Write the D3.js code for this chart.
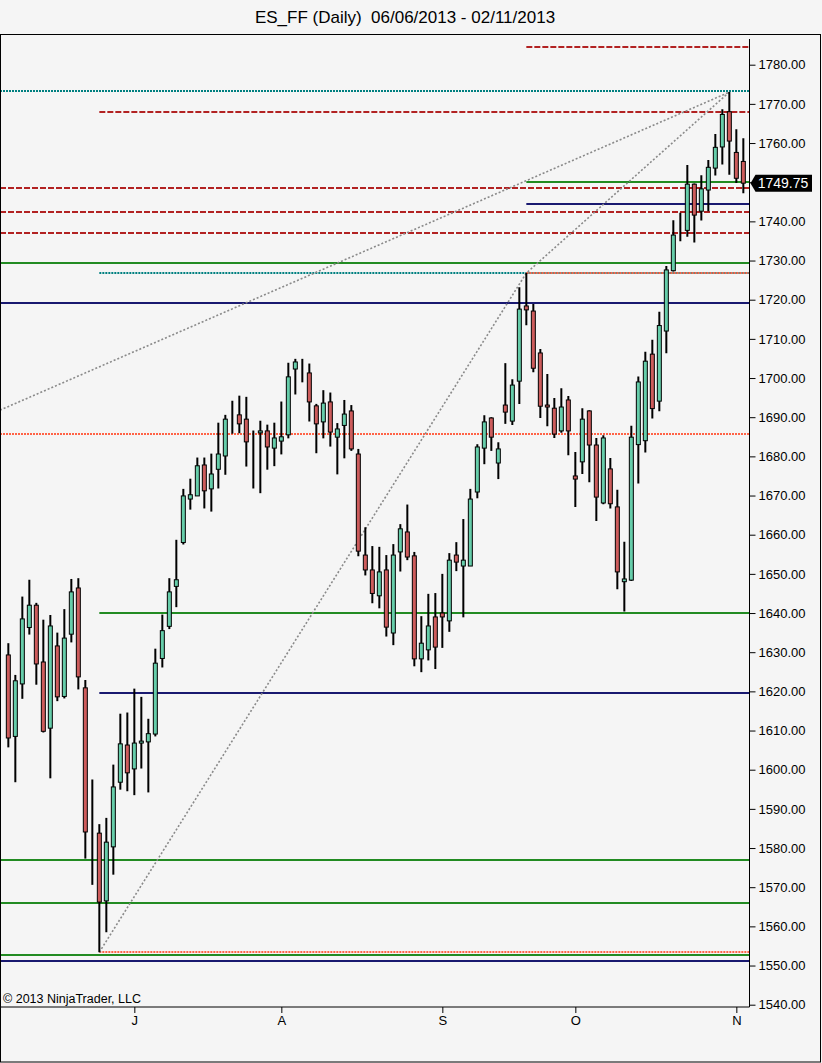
<!DOCTYPE html>
<html>
<head>
<meta charset="utf-8">
<script src="https://cdnjs.cloudflare.com/ajax/libs/d3/7.8.5/d3.min.js"></script>
<style>
  body { margin: 0; background: #f5f5f5; }
  svg { display: block; font-family: "Liberation Sans", Arial, sans-serif; }
</style>
</head>
<body>
<div id="svgContainer"></div>
<script>
// Daily bars, one entry per session (06/06/2013 .. 01/11/2013)
var opens = [1629.3, 1608.5, 1621.9, 1636.3, 1642.0, 1627.5, 1610.6, 1631.6, 1618.7, 1634.6,
  1646.4, 1620.9, 1584.25, 1583.8, 1566.5, 1580.3, 1596.8, 1606.3, 1600.2, 1606.8,
  1607.1, 1609.1, 1628.4, 1636.6, 1646.8, 1658.0, 1669.1, 1669.9, 1677.8, 1671.7,
  1676.7, 1680.1, 1690.1, 1690.6, 1689.5, 1684.0, 1686.0, 1686.5, 1682.1, 1683.9,
  1685.5, 1702.3, 1702.6, 1701.3, 1692.9, 1688.8, 1693.9, 1684.9, 1687.9, 1691.6,
  1680.6, 1654.8, 1651.0, 1644.4, 1651.0, 1634.9, 1655.6, 1660.7, 1654.6, 1628.3,
  1630.6, 1639.0, 1640.0, 1638.0, 1654.8, 1652.0, 1652.0, 1670.9, 1682.1, 1689.8,
  1678.3, 1693.1, 1689.0, 1699.2, 1718.4, 1717.1, 1706.4, 1693.1, 1692.3, 1686.5,
  1694.4, 1675.0, 1678.6, 1691.6, 1682.9, 1668.1, 1676.8, 1667.1, 1648.0, 1648.4,
  1683.0, 1684.0, 1706.1, 1694.1, 1712.0, 1727.4, 1738.1, 1737.7, 1749.5, 1742.6,
  1748.0, 1753.6, 1759.0, 1768.0, 1757.6, 1755.3];
var highs = [1632.3, 1624.2, 1644.2, 1648.5, 1642.6, 1638.3, 1639.5, 1635.0, 1641.0, 1648.7,
  1648.9, 1622.9, 1597.5, 1586.1, 1587.7, 1601.3, 1614.3, 1614.6, 1620.7, 1618.6,
  1613.0, 1630.9, 1639.6, 1648.9, 1658.7, 1671.7, 1674.3, 1679.7, 1679.7, 1680.7,
  1688.6, 1690.6, 1694.2, 1695.5, 1695.2, 1686.6, 1689.1, 1688.1, 1688.6, 1694.0,
  1703.9, 1704.9, 1704.9, 1703.7, 1693.4, 1696.9, 1696.3, 1688.5, 1694.4, 1693.1,
  1681.9, 1661.9, 1657.1, 1656.9, 1654.8, 1657.6, 1662.7, 1667.7, 1655.6, 1639.2,
  1644.9, 1645.1, 1650.0, 1655.3, 1658.1, 1664.0, 1671.7, 1683.1, 1690.5, 1690.0,
  1683.6, 1703.8, 1699.7, 1723.2, 1726.8, 1718.9, 1707.4, 1701.0, 1694.9, 1697.4,
  1695.4, 1681.1, 1692.3, 1691.8, 1684.7, 1685.4, 1679.6, 1671.5, 1658.2, 1687.8,
  1700.4, 1706.7, 1709.8, 1716.9, 1728.6, 1740.3, 1742.2, 1754.4, 1749.7, 1751.8,
  1755.7, 1762.3, 1768.6, 1773.0, 1763.5, 1761.2];
var lows = [1605.7, 1596.8, 1618.1, 1634.5, 1621.7, 1609.5, 1597.8, 1617.5, 1618.2, 1632.5,
  1620.5, 1577.3, 1570.6, 1553.4, 1558.5, 1573.2, 1594.9, 1594.5, 1593.5, 1600.3,
  1594.2, 1608.5, 1626.1, 1635.9, 1641.5, 1657.5, 1666.4, 1669.9, 1666.7, 1665.9,
  1671.8, 1675.3, 1685.8, 1685.9, 1677.4, 1671.8, 1670.6, 1676.6, 1677.5, 1680.5,
  1684.6, 1695.8, 1698.9, 1688.9, 1680.8, 1684.6, 1682.5, 1675.4, 1679.5, 1681.4,
  1654.5, 1649.6, 1642.5, 1641.2, 1634.0, 1631.8, 1650.6, 1653.5, 1626.4, 1624.9,
  1627.9, 1625.7, 1631.1, 1635.2, 1650.7, 1638.9, 1652.0, 1669.3, 1678.0, 1681.4,
  1674.2, 1688.3, 1688.0, 1693.4, 1713.5, 1701.5, 1689.8, 1687.7, 1684.7, 1686.0,
  1680.3, 1667.1, 1675.5, 1673.4, 1663.5, 1667.8, 1666.7, 1646.1, 1640.4, 1648.2,
  1673.1, 1681.0, 1689.7, 1691.5, 1706.3, 1727.2, 1734.9, 1736.1, 1734.6, 1740.2,
  1742.6, 1751.7, 1754.5, 1751.9, 1749.8, 1747.2];
var closes = [1608.1, 1622.7, 1638.5, 1642.0, 1627.0, 1609.8, 1636.7, 1618.6, 1633.6, 1645.4,
  1623.7, 1584.1, 1584.25, 1566.2, 1581.5, 1595.6, 1606.6, 1599.2, 1606.8, 1607.3,
  1609.2, 1627.2, 1635.5, 1645.4, 1648.5, 1669.9, 1670.2, 1677.6, 1671.2, 1675.5,
  1680.6, 1689.5, 1690.1, 1688.3, 1683.7, 1684.0, 1686.5, 1682.4, 1684.7, 1685.0,
  1700.3, 1704.1, 1702.6, 1693.9, 1688.3, 1693.6, 1686.2, 1687.0, 1690.8, 1681.9,
  1655.8, 1651.0, 1645.0, 1650.5, 1636.4, 1654.8, 1661.5, 1654.3, 1628.3, 1632.3,
  1636.7, 1631.3, 1639.0, 1653.5, 1653.0, 1653.5, 1669.1, 1682.4, 1688.8, 1684.9,
  1681.9, 1691.3, 1698.2, 1717.6, 1717.4, 1702.5, 1692.8, 1692.6, 1685.7, 1692.6,
  1686.5, 1674.2, 1689.5, 1682.9, 1669.6, 1684.7, 1667.9, 1650.5, 1648.7, 1684.9,
  1699.0, 1704.3, 1692.2, 1713.4, 1727.6, 1736.5, 1738.1, 1749.5, 1741.6, 1748.3,
  1753.8, 1758.9, 1767.3, 1760.5, 1751.0, 1749.75];

// Month ticks: bar index of the first session of each month
var monthTicks = [18, 39, 62, 81, 104];
var monthLabels = ["J", "A", "S", "O", "N"];

var priceTicks = d3.range(1540, 1781, 10);

// Horizontal levels drawn on the chart (from = first bar, 0 = whole width)
var levelValues = [1784.5, 1773.3, 1767.8, 1750.1, 1748.6, 1744.5, 1742.4, 1737.1, 1729.45,
  1726.9, 1726.9, 1719.2, 1685.8, 1640.1, 1619.65, 1577.0, 1566.0, 1553.35, 1552.8, 1551.25];
var levelStarts = [74, 0, 13, 74, 0, 74, 0, 0, 0,
  13, 74, 0, 0, 13, 13, 0, 0, 13, 0, 0];
var levelKinds = ["redDash", "tealDot", "redDash", "green", "redDash", "navy", "redDash", "redDash", "green",
  "tealDot", "orangeDot", "navy", "orangeDot", "green", "navy", "green", "green", "orangeDot", "green", "navy"];

// Trend lines (bar index, price)
var trendLow = [[13, 1553.4], [74, 1726.8], [103, 1773.0]];
var trendHigh = [[-1.19, 1691.8], [103, 1773.0]];

var lastPrice = "1749.75";

var width = 822;
var height = 1063;

var plotLeft = 0, plotRight = 749.5, plotTop = 34.5, plotBottom = 1007;

var x = d3.scaleLinear().domain([0, 105]).range([8.33, 743.33]);
var y = d3.scaleLinear().domain([1540, 1780]).range([1004.7, 64.7]);

var styles = {
  redDash:   { stroke: "#b22222", dash: "6,2" },
  tealDot:   { stroke: "#008080", dash: "2,1" },
  orangeDot: { stroke: "#ff6347", dash: "2,1" },
  green:     { stroke: "#228b22", dash: null },
  navy:      { stroke: "#191970", dash: null }
};

var svg = d3.select("#svgContainer").append("svg")
  .attr("width", width)
  .attr("height", height);

svg.append("rect")
  .attr("width", width).attr("height", height)
  .attr("fill", "#f5f5f5");

svg.append("text")
  .attr("x", 405).attr("y", 23)
  .attr("text-anchor", "middle")
  .style("font-size", "17px")
  .style("white-space", "pre")
  .text("ES_FF (Daily)  06/06/2013 - 02/11/2013");

svg.append("clipPath").attr("id", "plotClip")
  .append("rect")
  .attr("x", plotLeft).attr("y", plotTop)
  .attr("width", plotRight - plotLeft).attr("height", plotBottom - plotTop);

var plot = svg.append("g").attr("clip-path", "url(#plotClip)");

// Levels
var levels = levelValues.map(function(v, k) {
  return { v: v, start: levelStarts[k], kind: levelKinds[k] };
});

plot.selectAll("line.level")
  .data(levels)
  .enter().append("line")
  .attr("class", "level")
  .attr("x1", function(d) { return d.start === 0 ? plotLeft : x(d.start); })
  .attr("x2", plotRight)
  .attr("y1", function(d) { return Math.round(y(d.v)); })
  .attr("y2", function(d) { return Math.round(y(d.v)); })
  .attr("stroke", function(d) { return styles[d.kind].stroke; })
  .attr("stroke-width", 2)
  .attr("stroke-dasharray", function(d) { return styles[d.kind].dash; });

// Trend lines
var trendLine = d3.line()
  .x(function(d) { return x(d[0]); })
  .y(function(d) { return y(d[1]); });

plot.selectAll("path.trend")
  .data([trendLow, trendHigh])
  .enter().append("path")
  .attr("class", "trend")
  .attr("d", trendLine)
  .attr("fill", "none")
  .attr("stroke", "#8a8a8a")
  .attr("stroke-width", 1.6)
  .attr("stroke-dasharray", "2,2");

// Candles
var bars = opens.map(function(o, i) {
  return { i: i, o: o, h: highs[i], l: lows[i], c: closes[i] };
});

var candle = plot.selectAll("g.candle")
  .data(bars)
  .enter().append("g")
  .attr("class", "candle");

candle.append("line")
  .attr("x1", function(d) { return x(d.i); })
  .attr("x2", function(d) { return x(d.i); })
  .attr("y1", function(d) { return y(d.h); })
  .attr("y2", function(d) { return y(d.l); })
  .attr("stroke", "#000")
  .attr("stroke-width", 2);

candle.append("rect")
  .attr("x", function(d) { return x(d.i) - 2; })
  .attr("y", function(d) { return y(Math.max(d.o, d.c)); })
  .attr("width", 4)
  .attr("height", function(d) { return Math.abs(y(d.o) - y(d.c)); })
  .attr("fill", function(d) {
    if (d.c > d.o) return "#66cdaa";
    if (d.c < d.o) return "#cd5c5c";
    return "#000";
  })
  .attr("stroke", "#000")
  .attr("stroke-width", 1);

// Copyright
svg.append("text")
  .attr("x", 3).attr("y", 1003)
  .style("font-size", "12.5px")
  .text("\u00a9 2013 NinjaTrader, LLC");

// Price axis (the 1750 label sits under the last price marker)
var yAxis = d3.axisRight(y)
  .tickValues(priceTicks)
  .tickFormat(function(d) { return d === 1750 ? "" : d3.format(".2f")(d); })
  .tickSize(6)
  .tickPadding(3);

var yAxisG = svg.append("g")
  .attr("transform", "translate(" + plotRight + ",0)")
  .call(yAxis);
yAxisG.select(".domain").remove();
yAxisG.selectAll("text")
  .style("font-size", "13px")
  .attr("fill", "#000");

svg.append("line")
  .attr("x1", plotRight).attr("x2", plotRight)
  .attr("y1", 39).attr("y2", plotBottom)
  .attr("stroke", "#000");

// Time axis
var xAxis = d3.axisBottom(x)
  .tickValues(monthTicks)
  .tickFormat(function(d, k) { return monthLabels[k]; })
  .tickSize(6)
  .tickPadding(3);

var xAxisG = svg.append("g")
  .attr("transform", "translate(0," + plotBottom + ")")
  .call(xAxis);
xAxisG.select(".domain").remove();
xAxisG.selectAll("text")
  .style("font-size", "13px")
  .attr("fill", "#000");

svg.append("line")
  .attr("x1", 0).attr("x2", plotRight)
  .attr("y1", plotBottom).attr("y2", plotBottom)
  .attr("stroke", "#000");

// Last price marker
var ly = y(+lastPrice);
svg.append("path")
  .attr("d", "M" + (plotRight + 1) + "," + ly +
    " L" + (plotRight + 6) + "," + (ly - 8.5) +
    " L812," + (ly - 8.5) + " L812," + (ly + 8.5) +
    " L" + (plotRight + 6) + "," + (ly + 8.5) + " Z")
  .attr("fill", "#000");

svg.append("text")
  .attr("x", 783).attr("y", ly + 5)
  .attr("text-anchor", "middle")
  .attr("fill", "#fff")
  .style("font-size", "14px")
  .text(lastPrice);

// Outer frame
svg.append("rect")
  .attr("x", 0.5).attr("y", plotTop)
  .attr("width", 820).attr("height", 1062 - plotTop)
  .attr("fill", "none")
  .attr("stroke", "#000");
</script>
</body>
</html>
